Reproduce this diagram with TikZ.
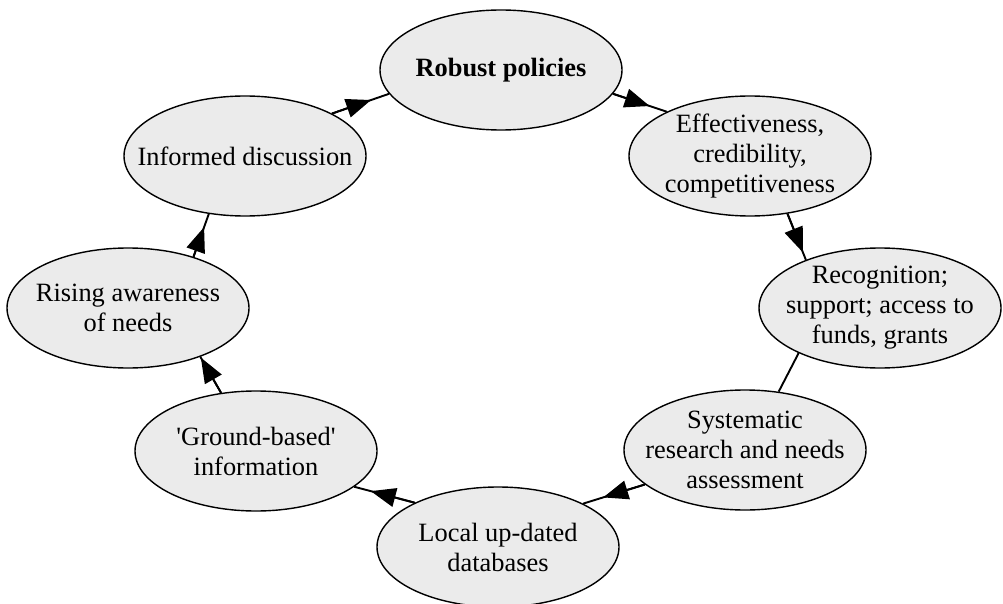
\documentclass[tikz,border=0pt]{standalone}
\usepackage{fontspec}
\setmainfont{Liberation Serif}
\usetikzlibrary{shapes.geometric,arrows.meta}
\definecolor{bubblegray}{HTML}{EBEBEB}
\tikzset{
  bubble/.style={ellipse, draw=black, line width=1.4pt, fill=bubblegray,
    minimum width=242pt, minimum height=120pt, inner sep=0pt},
  caption/.style={align=center, inner sep=0pt,
    font=\fontsize{26.4}{30}\selectfont},
  link/.style={draw=black, line width=1.9pt},
  headed/.style={link, -{Triangle[length=25pt,width=19pt]}}
}
% a cycle edge: full line from border to border, plus a head set back from the end
\newcommand\cycleedge[3]{%
  \draw[link] (#1) -- (#2);
  \draw[headed, shorten >=#3] (#1) -- (#2);}
\begin{document}
\begin{tikzpicture}[x=1pt,y=-1pt]
  \useasboundingbox (0,0) rectangle (1003,604);

  \node[bubble] (rob) at (501,70)  {};
  \node[bubble] (eff) at (750,156) {};
  \node[bubble] (rec) at (880,308) {};
  \node[bubble] (sys) at (745,450) {};
  \node[bubble] (loc) at (498,547) {};
  \node[bubble] (gnd) at (256,451) {};
  \node[bubble] (ris) at (128,308) {};
  \node[bubble] (inf) at (245,156) {};

  \node[caption, font=\fontsize{26.4}{30}\selectfont\bfseries] (trob) at (rob) {Robust policies};
  \node[caption] (teff) at (eff) {Effectiveness,\\credibility,\\competitiveness};
  \node[caption] (trec) at (rec) {Recognition;\\support; access to\\funds, grants};
  \node[caption] (tsys) at (sys) {Systematic\\research and needs\\assessment};
  \node[caption] (tloc) at (loc) {Local up-dated\\databases};
  \node[caption] (tgnd) at (gnd) {\textquotesingle Ground-based\textquotesingle\\information};
  \node[caption] (tris) at (ris) {Rising awareness\\of needs};
  \node[caption] (tinf) at (inf) {Informed discussion};

  \cycleedge{inf.26.8}{rob.-168.3}{19pt}
  \cycleedge{rob.-12.7}{eff.152.6}{18pt}
  \cycleedge{eff.-57.9}{rec.147.4}{8pt}
  \draw[link] (rec.-151.2) -- (sys.60.7);
  \cycleedge{sys.-161.1}{loc.27.1}{21pt}
  \cycleedge{loc.152.6}{gnd.-20.4}{17pt}
  \cycleedge{gnd.121.4}{ris.-34.6}{1pt}
  \cycleedge{ris.38.6}{inf.-122.1}{14pt}
\end{tikzpicture}
\end{document}
